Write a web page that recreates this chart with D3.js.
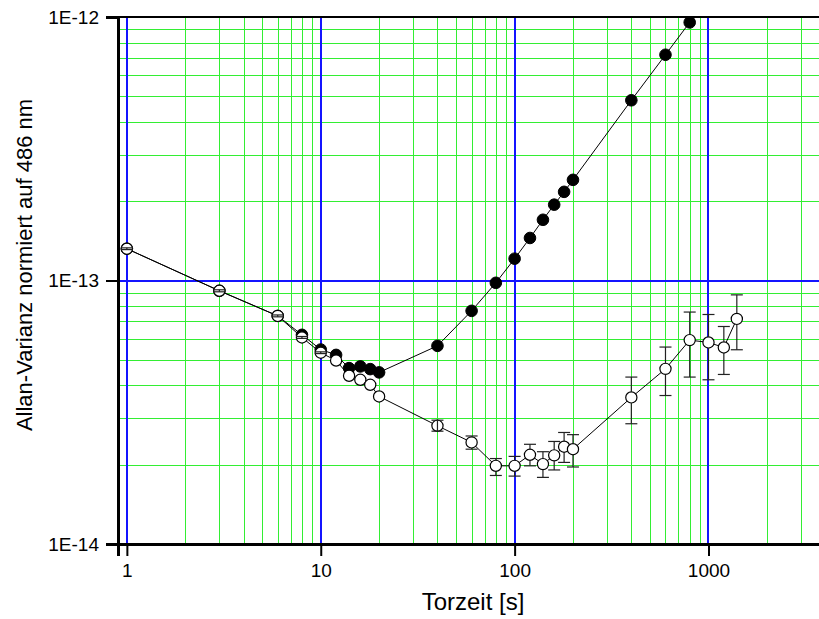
<!DOCTYPE html>
<html>
<head>
<meta charset="utf-8">
<script src="https://cdn.jsdelivr.net/npm/d3@7"></script>
<style>
  html, body { margin: 0; padding: 0; background: #fff; }
  svg { display: block; }
  text { font-family: "Liberation Sans", Arial, sans-serif; fill: #000; }
</style>
</head>
<body>
<svg id="chart" width="819" height="619"></svg>
<script>
// ---- data ----
const tauFilled = [1, 3, 6, 8, 10, 12, 14, 16, 18, 20, 40, 60, 80, 100, 120, 140, 160, 180, 200, 400, 600, 800];
const valFilled = [1.32e-13, 9.14e-14, 7.34e-14, 6.22e-14, 5.47e-14, 5.22e-14, 4.65e-14, 4.72e-14, 4.61e-14, 4.48e-14,
                   5.65e-14, 7.67e-14, 9.8e-14, 1.21e-13, 1.45e-13, 1.70e-13, 1.94e-13, 2.17e-13, 2.41e-13,
                   4.83e-13, 7.19e-13, 9.54e-13];

const tauOpen = [1, 3, 6, 8, 10, 12, 14, 16, 18, 20, 40, 60, 80, 100, 120, 140, 160, 180, 200, 400, 600, 800, 1000, 1200, 1400];
const valOpen = [1.32e-13, 9.14e-14, 7.34e-14, 6.08e-14, 5.32e-14, 4.97e-14, 4.35e-14, 4.20e-14, 4.02e-14, 3.63e-14,
                 2.81e-14, 2.43e-14, 1.98e-14, 1.98e-14, 2.18e-14, 2.01e-14, 2.17e-14, 2.34e-14, 2.29e-14,
                 3.60e-14, 4.62e-14, 5.94e-14, 5.82e-14, 5.57e-14, 7.15e-14];
// error bar bounds (null = hidden behind the symbol)
const errLowOpen = [1.31e-13, 9.06e-14, 7.28e-14, 6.03e-14, 5.28e-14, null, null, null, null, null,
                    2.68e-14, 2.29e-14, 1.82e-14, 1.81e-14, 1.98e-14, 1.79e-14, 1.91e-14, 2.04e-14, 1.96e-14,
                    2.86e-14, 3.66e-14, 4.30e-14, 4.20e-14, 4.40e-14, 5.46e-14];
const errHighOpen = [1.33e-13, 9.22e-14, 7.40e-14, 6.13e-14, 5.36e-14, null, null, null, null, null,
                     2.95e-14, 2.57e-14, 2.11e-14, 2.15e-14, 2.39e-14, 2.24e-14, 2.45e-14, 2.65e-14, 2.60e-14,
                     4.30e-14, 5.59e-14, 7.59e-14, 7.43e-14, 6.69e-14, 8.82e-14];

const xMajorTicks = [1, 10, 100, 1000];
const xTickLabels = ["1", "10", "100", "1000"];
const yMajorTicks = [1e-14, 1e-13, 1e-12];
const yTickLabels = ["1E-14", "1E-13", "1E-12"];
const xTitle = "Torzeit [s]";
const yTitle = "Allan-Varianz normiert auf 486 nm";

// ---- layout ----
const svg = d3.select("#chart");
const L = 118, T = 17, B = 544, R = 844;
const x = d3.scaleLog().domain([0.9, 5000]).range([L, R]);
const y = d3.scaleLog().domain([1e-14, 1e-12]).range([B, T]);

const xMinor = [];
[1, 10, 100, 1000].forEach(d => { for (let k = 2; k <= 9; k++) if (k * d <= 5000) xMinor.push(k * d); });
const yMinor = [];
[1e-14, 1e-13].forEach(d => { for (let k = 2; k <= 9; k++) yMinor.push(k * d); });

svg.append("rect").attr("width", 819).attr("height", 619).attr("fill", "#fff");

const grid = svg.append("g").attr("shape-rendering", "crispEdges");
grid.selectAll("line.vmin").data(xMinor).join("line").attr("class", "vmin")
  .attr("x1", d => Math.round(x(d)) + 0.5).attr("x2", d => Math.round(x(d)) + 0.5)
  .attr("y1", T).attr("y2", B).attr("stroke", "#33ee33").attr("stroke-width", 1);
grid.selectAll("line.hmin").data(yMinor).join("line").attr("class", "hmin")
  .attr("x1", L).attr("x2", R)
  .attr("y1", d => Math.round(y(d)) + 0.5).attr("y2", d => Math.round(y(d)) + 0.5)
  .attr("stroke", "#33ee33").attr("stroke-width", 1);
grid.selectAll("line.vmaj").data(xMajorTicks).join("line").attr("class", "vmaj")
  .attr("x1", d => x(d)).attr("x2", d => x(d))
  .attr("y1", T).attr("y2", B).attr("stroke", "#1414ff").attr("stroke-width", 2);
grid.selectAll("line.hmaj").data([1e-13]).join("line").attr("class", "hmaj")
  .attr("x1", L).attr("x2", R)
  .attr("y1", d => y(d)).attr("y2", d => y(d)).attr("stroke", "#1414ff").attr("stroke-width", 2);

// top border
svg.append("line").attr("x1", L).attr("x2", R).attr("y1", T).attr("y2", T)
  .attr("stroke", "#000").attr("stroke-width", 2);

// ---- axes ----
const fmtX = d => xTickLabels[xMajorTicks.indexOf(d)];
const fmtY = d => yTickLabels[yMajorTicks.indexOf(d)];

const gx = svg.append("g").attr("transform", `translate(0,${B})`);
gx.call(d3.axisBottom(x).tickValues(xMinor).tickSize(7).tickFormat(""));
gx.call(d3.axisBottom(x).tickValues(xMajorTicks).tickSize(12).tickPadding(8).tickFormat(fmtX));
gx.selectAll("path.domain").attr("stroke-width", 3).attr("stroke", "#000");
gx.selectAll(".tick line").attr("stroke-width", 2).attr("stroke", "#000");
gx.selectAll(".tick text").attr("font-size", 19).attr("font-family", "Liberation Sans, Arial, sans-serif");

const gy = svg.append("g").attr("transform", `translate(${L},0)`);
gy.call(d3.axisLeft(y).tickValues(yMinor).tickSize(7).tickFormat(""));
gy.call(d3.axisLeft(y).tickValues(yMajorTicks).tickSize(12).tickPadding(7).tickFormat(fmtY));
gy.selectAll("path.domain").attr("stroke-width", 3).attr("stroke", "#000");
gy.selectAll(".tick line").attr("stroke-width", 2).attr("stroke", "#000");
gy.selectAll(".tick text").attr("font-size", 19).attr("font-family", "Liberation Sans, Arial, sans-serif");

// titles
svg.append("text").attr("x", 473).attr("y", 610).attr("text-anchor", "middle")
  .attr("font-size", 24).text(xTitle);
svg.append("text").attr("transform", "translate(32,265) rotate(-90)").attr("text-anchor", "middle")
  .attr("font-size", 22).text(yTitle);

// ---- series ----
const line = d3.line().x(d => x(d[0])).y(d => y(d[1]));
const filled = tauFilled.map((t, i) => [t, valFilled[i]]);
const open = tauOpen.map((t, i) => [t, valOpen[i], errLowOpen[i], errHighOpen[i]]);

svg.append("path").datum(filled).attr("d", line).attr("fill", "none").attr("stroke", "#000").attr("stroke-width", 1);
svg.append("path").datum(open).attr("d", line).attr("fill", "none").attr("stroke", "#000").attr("stroke-width", 1);

svg.selectAll("circle.pf").data(filled).join("circle").attr("class", "pf")
  .attr("cx", d => x(d[0])).attr("cy", d => y(d[1])).attr("r", 5.8)
  .attr("fill", "#000").attr("stroke", "#000");

const rO = 5.6;
svg.selectAll("circle.po").data(open).join("circle").attr("class", "po")
  .attr("cx", d => x(d[0])).attr("cy", d => y(d[1])).attr("r", rO)
  .attr("fill", "#fff").attr("stroke", "#000").attr("stroke-width", 1.2);

// error bars (stems outside the symbol, caps always visible)
const eb = svg.append("g").attr("stroke", "#222").attr("stroke-width", 1.2);
open.filter(d => d[2] != null && d[3] != null).forEach(d => {
  const cx = x(d[0]), cy = y(d[1]), yl = y(d[2]), yh = y(d[3]);
  if (yh < cy - rO) eb.append("line").attr("x1", cx).attr("x2", cx).attr("y1", yh).attr("y2", cy - rO);
  if (yl > cy + rO) eb.append("line").attr("x1", cx).attr("x2", cx).attr("y1", cy + rO).attr("y2", yl);
  if (yh >= cy - rO) eb.append("line").attr("x1", cx).attr("x2", cx).attr("y1", yh).attr("y2", yl);
  eb.append("line").attr("x1", cx - 6).attr("x2", cx + 6).attr("y1", yl).attr("y2", yl);
  eb.append("line").attr("x1", cx - 6).attr("x2", cx + 6).attr("y1", yh).attr("y2", yh);
});
</script>
</body>
</html>
